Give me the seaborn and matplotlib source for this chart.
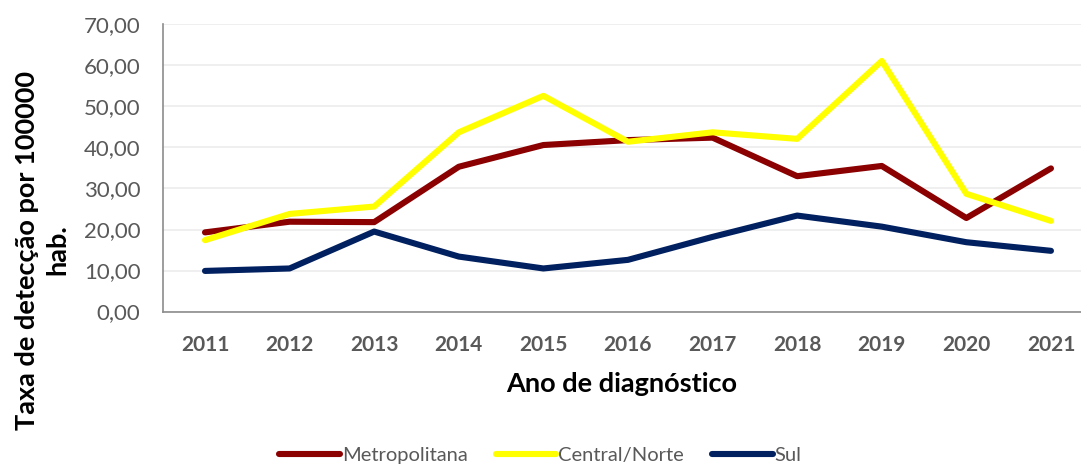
import numpy as np
import pandas as pd
import matplotlib.pyplot as plt
import seaborn as sns
from matplotlib.ticker import FuncFormatter

# Data
anos = [2011, 2012, 2013, 2014, 2015, 2016, 2017, 2018, 2019, 2020, 2021]
metropolitana = [19.3, 21.9, 21.8, 35.3, 40.6, 41.8, 42.4, 33.0, 35.5, 22.8, 34.9]
central_norte = [17.4, 23.8, 25.6, 43.7, 52.6, 41.4, 43.7, 42.1, 61.1, 28.7, 22.1]
sul = [9.9, 10.5, 19.5, 13.4, 10.5, 12.6, 18.2, 23.4, 20.7, 16.9, 14.8]
regioes = ["Metropolitana", "Central/Norte", "Sul"]
cores = ["#8B0000", "#FFFF00", "#002060"]

df = pd.DataFrame({
    "ano": [str(a) for a in anos] * 3,
    "taxa": metropolitana + central_norte + sul,
    "regiao": np.repeat(regioes, len(anos)),
})

sns.set_theme(style="white")
plt.rcParams['font.family'] = ['Lato', 'DejaVu Sans']

fig = plt.figure(figsize=(10.81, 4.66), dpi=100)
ax = fig.add_axes([0.1505, 0.3315, 0.8495, 0.616])

sns.lineplot(data=df, x="ano", y="taxa", hue="regiao", palette=cores,
             linewidth=4.4, sort=False, ax=ax, legend=False)
for ln in ax.lines:
    ln.set_solid_capstyle("round")
    ln.set_solid_joinstyle("round")

ax.set_ylim(0, 70)
ax.set_yticks(range(0, 71, 10))
ax.set_xlim(-0.5, 10.355)
ax.yaxis.set_major_formatter(FuncFormatter(lambda v, p: f"{v:.2f}".replace(".", ",")))
ax.grid(axis="y", color="#ececec", linewidth=1.2)
ax.set_axisbelow(True)

for s in ["top", "right"]:
    ax.spines[s].set_visible(False)
ax.spines["left"].set_color("#8c8c8c")
ax.spines["bottom"].set_color("#8c8c8c")
ax.spines["left"].set_linewidth(1.2)
ax.spines["bottom"].set_linewidth(1.2)

ax.tick_params(axis="y", labelsize=16, labelcolor="#595959", length=0, pad=16)
ax.tick_params(axis="x", labelsize=15, labelcolor="#595959", length=0, pad=17)
for lbl in ax.get_xticklabels():
    lbl.set_fontweight("bold")

ax.set_xlabel("Ano de diagnóstico", fontsize=19.5, fontweight="bold", color="black", labelpad=12)
ax.set_ylabel("")
fig.text(0.039, 1 - 250 / 466, "Taxa de detecção por 100000\nhab.", rotation=90,
         ha="center", va="center", multialignment="center",
         fontsize=19.5, fontweight="bold", color="black", linespacing=1.3)

handles = [plt.Line2D([0], [0], color=c, linewidth=4.4, solid_capstyle="round") for c in cores]
fig.legend(handles, regioes, loc="center", bbox_to_anchor=(0.5, 1 - 455 / 466), ncol=3,
           frameon=False, fontsize=14.5, handlelength=3.0, handletextpad=0.1,
           columnspacing=1.4, labelcolor="#595959")

fig.savefig("out.png", dpi=100)
